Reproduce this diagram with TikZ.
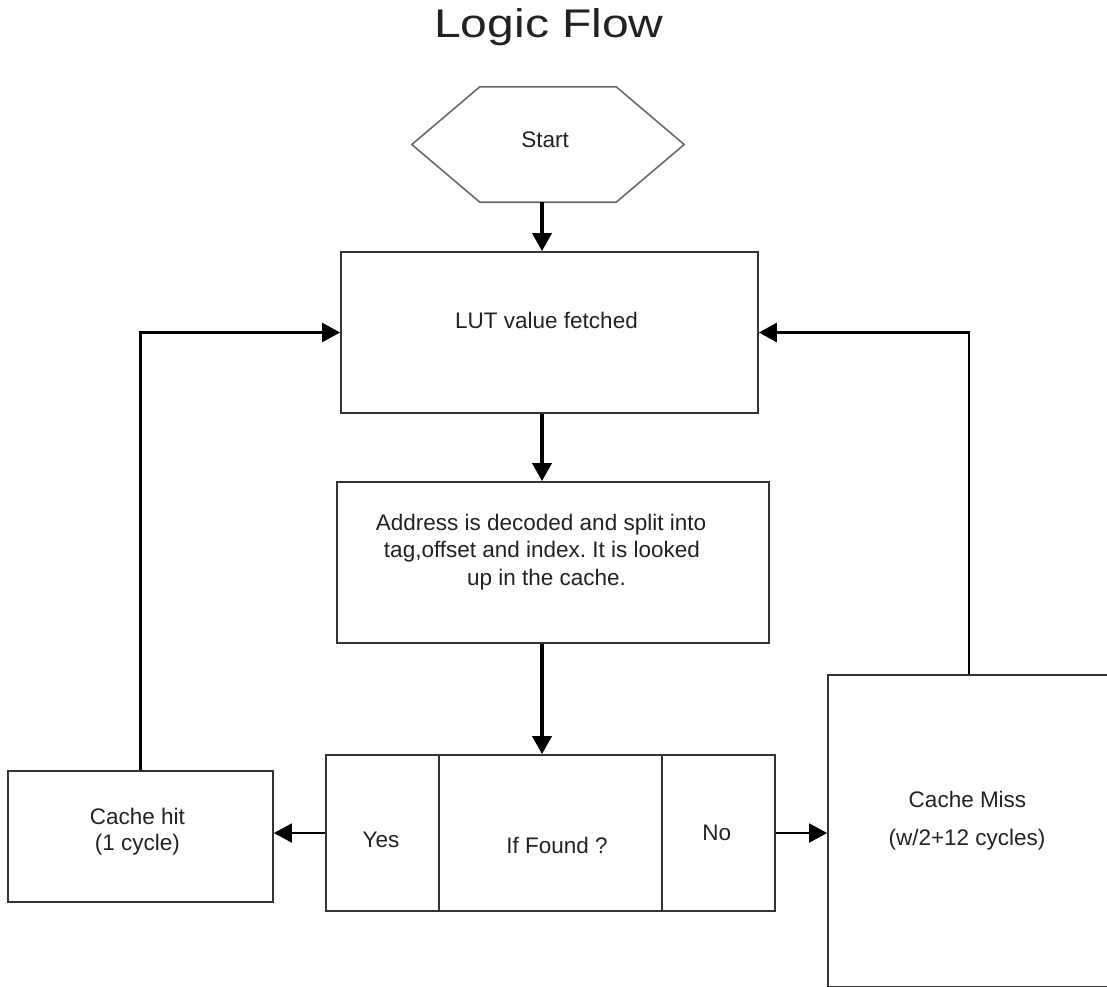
\documentclass[tikz,border=0pt]{standalone}
\usepackage{fontspec}
\setmainfont{Liberation Sans}
\usepackage{graphicx}
\usetikzlibrary{arrows.meta}
\definecolor{ln}{HTML}{333333}
\definecolor{hexln}{HTML}{6A6A6A}
\definecolor{tx}{HTML}{222222}
\frenchspacing
\begin{document}
\begin{tikzpicture}[x=1pt,y=-1pt,
  bx/.style={draw=ln, line width=1.8pt, inner sep=0pt, rectangle},
  lbl/.style={text=tx, font=\fontsize{22.5}{26}\selectfont, anchor=base, inner sep=0pt},
  arr/.style={draw=black, line width=3.5pt, -{Triangle[length=18pt,width=19pt]}},
  thinarr/.style={draw=black, line width=2pt, -{Triangle[length=18pt,width=19pt]}},
  looparr/.style={draw=black, line width=2.6pt, line join=miter, -{Triangle[length=18pt,width=19pt]}},
  hexline/.style={draw=hexln, line width=1.6pt, line join=miter}]
\useasboundingbox (0,0) rectangle (1107,986);
\clip (0,0) rectangle (1107,986);
\fill[white] (0,0) rectangle (1107,986);

% shapes
\node[inner sep=0pt, minimum width=272pt, minimum height=115pt] (start) at (548,144.5) {};
\draw[hexline] (start.west) -- ([xshift=68pt]start.north west) -- ([xshift=-68pt]start.north east)
  -- (start.east) -- ([xshift=-68pt]start.south east) -- ([xshift=68pt]start.south west) -- cycle;
\node[bx, minimum width=417pt, minimum height=161pt] (lut) at (549.5,332.5) {};
\node[bx, minimum width=432pt, minimum height=161pt] (addr) at (553,562.5) {};
\node[bx, minimum width=113pt, minimum height=156pt] (yes) at (382.5,833) {};
\node[bx, minimum width=223pt, minimum height=156pt] (iff) at (550.5,833) {};
\node[bx, minimum width=113pt, minimum height=156pt] (no) at (718.5,833) {};
\node[bx, minimum width=265pt, minimum height=131pt] (hit) at (140.5,836.5) {};
\node[bx, minimum width=282pt, minimum height=312pt] (miss) at (969,831) {};

% connectors
\coordinate (ax) at (542,0);
\draw[arr] (start.south -| ax) -- (lut.north -| ax);
\draw[arr] (lut.south -| ax) -- (addr.north -| ax);
\draw[arr] (addr.south -| ax) -- (iff.north -| ax);
\draw[thinarr] (yes.west) -- (yes.west -| hit.east);
\draw[thinarr] (no.east) -- (no.east -| miss.west);
\draw[looparr] (hit.north) |- (lut.west);
\draw[looparr] (miss.north) |- (lut.east);

% texts
\node[lbl] (ttl) at (549,37) {\fontsize{40}{48}\selectfont\scalebox{1.2}[1]{Logic Flow}};
\node[lbl] (starttxt) at (545,147.7) {Start};
\node[lbl] (luttxt) at (546.5,328) {LUT value fetched};
\node[lbl] (a1) at (541,530) {Address is decoded and split into};
\node[lbl] (a2) at (542,557.5) {tag,offset and index. It is looked};
\node[lbl] (a3) at (546.5,585) {up in the cache.};
\node[lbl] (yestxt) at (381,847) {Yes};
\node[lbl] (ifftxt) at (557,853) {If Found ?};
\node[lbl] (notxt) at (716.7,840.7) {No};
\node[lbl] (hit1) at (137.5,824) {Cache hit};
\node[lbl] (hit2) at (137.5,850) {(1 cycle)};
\node[lbl] (miss1) at (967.5,807) {Cache Miss};
\node[lbl] (miss2) at (967,845) {(w/2+12 cycles)};
\end{tikzpicture}
\end{document}
